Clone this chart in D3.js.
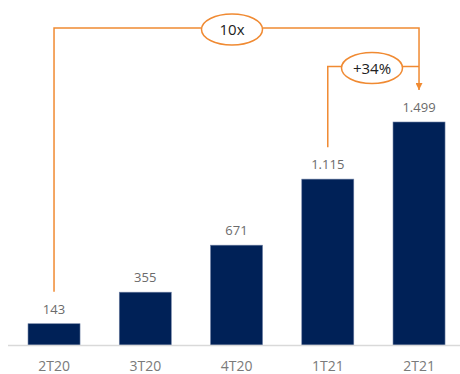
<!DOCTYPE html>
<html lang="pt">
<head>
<meta charset="UTF-8">
<title>Evolução trimestral</title>
<style>
  body { margin: 0; background: #fff; }
  .chart { width: 460px; height: 374px; }
  text { font-family: "Open Sans", "Noto Sans", sans-serif; }
</style>
</head>
<body>
<div class="chart"></div>
<script src="https://d3js.org/d3.v7.min.js"></script>
<script>
  // dados
  const categories = ['2T20', '3T20', '4T20', '1T21', '2T21'];
  const values = [143, 355, 671, 1115, 1499];
  const valueLabels = ['143', '355', '671', '1.115', '1.499'];
  // anotações de crescimento: de -> para
  const growthFrom = ['2T20', '1T21'];
  const growthTo = ['2T21', '2T21'];
  const growthLabels = ['10x', '+34%'];

  const width = 460, height = 374;
  const baseY = 345;
  const orange = '#F08A32';

  const svg = d3.select('.chart').append('svg')
    .attr('width', width)
    .attr('height', height);

  const x = d3.scaleBand()
    .domain(categories)
    .range([8.4, 464.65])
    .paddingInner(0.43)
    .paddingOuter(0.215);

  const y = d3.scaleLinear()
    .domain([0, 1499])
    .range([baseY, 122]);

  // barras
  svg.append('g')
    .selectAll('rect')
    .data(values)
    .join('rect')
    .attr('x', (d, i) => x(categories[i]))
    .attr('y', d => y(d))
    .attr('width', x.bandwidth())
    .attr('height', d => baseY - y(d))
    .attr('fill', '#002157')
    .attr('stroke', '#6d7fa3')
    .attr('stroke-width', 0.6);

  // rótulos de valor
  svg.append('g')
    .selectAll('text')
    .data(values)
    .join('text')
    .attr('x', (d, i) => x(categories[i]) + x.bandwidth() / 2)
    .attr('y', d => y(d) - 10)
    .attr('text-anchor', 'middle')
    .attr('fill', '#6b6b6b')
    .attr('font-size', '13px')
    .text((d, i) => valueLabels[i]);

  // eixo x
  const xAxis = d3.axisBottom(x).tickSize(0).tickPadding(16);
  const xAxisGroup = svg.append('g')
    .attr('transform', `translate(0, ${baseY})`)
    .call(xAxis);
  xAxisGroup.select('.domain').remove();
  xAxisGroup.selectAll('text')
    .attr('fill', '#7a7a7a')
    .attr('font-size', '14px')
    .style('font-family', '"Open Sans", "Noto Sans", sans-serif');
  svg.append('line')
    .attr('x1', 8).attr('x2', 460)
    .attr('y1', baseY + 0.5).attr('y2', baseY + 0.5)
    .attr('stroke', '#d9d9d9')
    .attr('stroke-width', 1.5);

  // seta
  svg.append('defs').append('marker')
    .attr('id', 'arrow')
    .attr('viewBox', '0 0 10 10')
    .attr('refX', 10).attr('refY', 5)
    .attr('markerWidth', 10).attr('markerHeight', 7)
    .attr('markerUnits', 'userSpaceOnUse')
    .attr('orient', 'auto')
    .append('path')
    .attr('d', 'M0,0 L10,5 L0,10 Z')
    .attr('fill', orange);

  const lineY = [28, 66.5];
  const center = c => x(c) + x.bandwidth() / 2;
  const valueOf = c => values[categories.indexOf(c)];

  growthLabels.forEach((label, i) => {
    const x0 = center(growthFrom[i]), x1 = center(growthTo[i]);
    const ly = lineY[i];
    const startY = y(valueOf(growthFrom[i])) - 32;
    const mid = i === 0 ? 232 : 372;
    const rx = 30.5, ry = 15.5;

    svg.append('path')
      .attr('d', `M${x0},${startY} V${ly} H${mid - rx}`)
      .attr('fill', 'none')
      .attr('stroke', orange)
      .attr('stroke-width', 1.5);

    svg.append('path')
      .attr('d', i === 0
        ? `M${mid + rx},${ly} H${x1} V${y(valueOf(growthTo[i])) - 32}`
        : `M${mid + rx},${ly} H${x1}`)
      .attr('fill', 'none')
      .attr('stroke', orange)
      .attr('stroke-width', 1.5)
      .attr('marker-end', i === 0 ? 'url(#arrow)' : null);

    svg.append('ellipse')
      .attr('cx', mid).attr('cy', ly + 1.5)
      .attr('rx', rx).attr('ry', ry)
      .attr('fill', '#fff')
      .attr('stroke', orange)
      .attr('stroke-width', 1.5);

    svg.append('text')
      .attr('x', mid).attr('y', ly + 7)
      .attr('text-anchor', 'middle')
      .attr('fill', '#222')
      .attr('font-size', '15px')
      .text(label);
  });
</script>
</body>
</html>
